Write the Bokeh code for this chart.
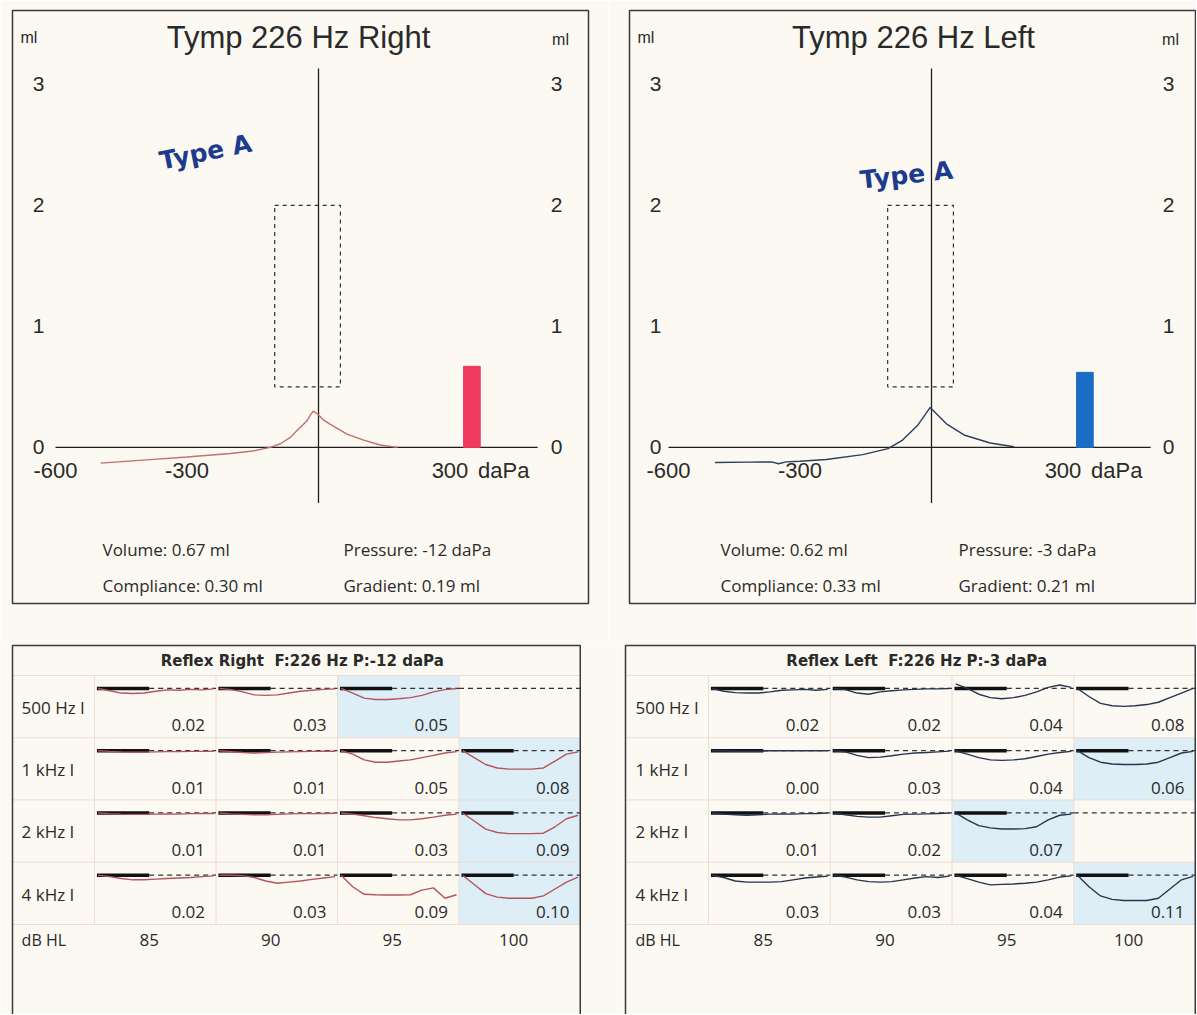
from bokeh.plotting import figure
from bokeh.layouts import column, row
from bokeh.models import Range1d
from bokeh.core.properties import value
from bokeh.embed import file_html
from bokeh.resources import INLINE

BG = "#fbf9f1"
INK = "#2a2a2a"

# ---------------- Tympanogram data ----------------
R_PRESSURE = [-497, -400, -300, -201, -150, -110, -87, -65, -49, -26, -18, -12, 0, 10, 27, 65, 103, 141, 180]
R_COMPLIANCE = [-0.13, -0.105, -0.08, -0.05, -0.03, 0.0, 0.03, 0.08, 0.14, 0.22, 0.27, 0.30, 0.27, 0.23, 0.19, 0.11, 0.06, 0.02, 0.0]
L_PRESSURE = [-494, -420, -365, -349, -332, -300, -240, -157, -99, -66, -32, -3, 34, 76, 134, 188]
L_COMPLIANCE = [-0.125, -0.122, -0.12, -0.135, -0.12, -0.115, -0.10, -0.06, -0.01, 0.06, 0.18, 0.33, 0.195, 0.10, 0.036, 0.005]

R_STATS = {"volume": 0.67, "compliance": 0.30, "pressure": -12, "gradient": 0.19}
L_STATS = {"volume": 0.62, "compliance": 0.33, "pressure": -3, "gradient": 0.21}

Y_TICKS = [0, 1, 2, 3]
X_TICKS = [-600, -300, 300]
X_TICK_LABELS = ["-600", "-300", "300"]
X_UNIT = "daPa"
NORMAL_PRESSURE = (-100, 50)
NORMAL_COMPLIANCE = (0.5, 2.0)
AXIS_PRESSURE = (-600, 500)
AXIS_ML = (-0.46, 3.13)
VOLUME_BAR_PRESSURE = 350

# ---------------- Reflex data ----------------
FREQ_LABELS = ["500 Hz I", "1 kHz I", "2 kHz I", "4 kHz I"]
LEVELS = ["85", "90", "95", "100"]
T = [0.0, 0.1, 0.2, 0.3, 0.4, 0.5, 0.6, 0.7, 0.8, 0.9, 1.0]

R_REFLEX_VALUES = [[0.02, 0.03, 0.05, None],
                   [0.01, 0.01, 0.05, 0.08],
                   [0.01, 0.01, 0.03, 0.09],
                   [0.02, 0.03, 0.09, 0.10]]
R_HIGHLIGHT = [[0, 0, 1, 0], [0, 0, 0, 1], [0, 0, 0, 1], [0, 0, 0, 1]]
R_TRACES = [
    [[0, 0.01, 0.02, 0.022, 0.02, 0.012, 0.006, 0.008, 0.004, 0.006, 0.002],
     [0, 0.005, 0.015, 0.028, 0.03, 0.028, 0.02, 0.012, 0.008, 0.004, 0.002],
     [0, 0.02, 0.042, 0.048, 0.048, 0.045, 0.04, 0.03, 0.015, 0.005, 0.0],
     None],
    [[0, 0.003, 0.005, 0.006, 0.006, 0.005, 0.004, 0.004, 0.003, 0.003, 0.002],
     [0, 0.004, 0.008, 0.01, 0.008, 0.006, 0.005, 0.004, 0.003, 0.002, 0.002],
     [0, 0.015, 0.04, 0.05, 0.05, 0.045, 0.04, 0.03, 0.02, 0.01, 0.004],
     [0, 0.03, 0.06, 0.075, 0.08, 0.08, 0.08, 0.075, 0.045, 0.015, 0.005]],
    [[0, 0.003, 0.005, 0.006, 0.006, 0.005, 0.004, 0.005, 0.003, 0.002, 0.002],
     [0, 0.004, 0.006, 0.008, 0.008, 0.006, 0.004, 0.003, 0.003, 0.002, 0.001],
     [0, 0.005, 0.012, 0.02, 0.025, 0.03, 0.03, 0.025, 0.018, 0.01, 0.005],
     [0, 0.035, 0.07, 0.085, 0.09, 0.09, 0.09, 0.088, 0.06, 0.025, 0.01]],
    [[0, 0.006, 0.014, 0.02, 0.02, 0.017, 0.014, 0.012, 0.01, 0.006, 0.003],
     [0, 0.0, 0.002, 0.01, 0.025, 0.035, 0.03, 0.025, 0.018, 0.012, 0.006],
     [0, 0.05, 0.083, 0.085, 0.086, 0.086, 0.085, 0.065, 0.055, 0.1, 0.085],
     [0, 0.04, 0.08, 0.095, 0.1, 0.1, 0.1, 0.09, 0.06, 0.03, 0.008]],
]

L_REFLEX_VALUES = [[0.02, 0.02, 0.04, 0.08],
                   [0.00, 0.03, 0.04, 0.06],
                   [0.01, 0.02, 0.07, None],
                   [0.03, 0.03, 0.04, 0.11]]
L_HIGHLIGHT = [[0, 0, 0, 0], [0, 0, 0, 1], [0, 0, 1, 0], [0, 0, 0, 1]]
L_TRACES = [
    [[0, 0.012, 0.018, 0.02, 0.02, 0.015, 0.008, 0.006, 0.004, 0.008, 0.004],
     [0, 0.005, 0.02, 0.025, 0.015, 0.01, 0.006, 0.004, 0.002, 0.002, 0.0],
     [-0.02, 0.0, 0.025, 0.04, 0.045, 0.04, 0.03, 0.015, -0.005, -0.015, -0.005],
     [0, 0.035, 0.065, 0.075, 0.078, 0.075, 0.07, 0.06, 0.04, 0.02, 0.0]],
    [[0, 0, 0.002, 0.002, 0.002, 0.0, 0.0, 0.0, 0.0, 0.0, 0.0],
     [0, 0.005, 0.02, 0.03, 0.028, 0.022, 0.015, 0.01, 0.008, 0.005, 0.002],
     [0, 0.015, 0.03, 0.04, 0.042, 0.04, 0.035, 0.025, 0.015, 0.008, 0.003],
     [0, 0.03, 0.05, 0.058, 0.06, 0.06, 0.058, 0.05, 0.03, 0.01, 0.003]],
    [[0, 0.005, 0.008, 0.01, 0.008, 0.005, 0.004, 0.005, 0.003, 0.002, 0.0],
     [0, 0.008, 0.015, 0.018, 0.018, 0.012, 0.006, 0.005, 0.004, 0.002, 0.0],
     [0, 0.03, 0.055, 0.065, 0.07, 0.07, 0.068, 0.06, 0.03, 0.01, 0.005],
     None],
    [[0, 0.01, 0.025, 0.03, 0.03, 0.03, 0.028, 0.02, 0.012, 0.008, 0.004],
     [0, 0.008, 0.02, 0.028, 0.03, 0.028, 0.02, 0.012, 0.006, 0.01, 0.004],
     [0, 0.015, 0.03, 0.042, 0.04, 0.038, 0.035, 0.03, 0.02, 0.008, 0.003],
     [0, 0.05, 0.09, 0.105, 0.11, 0.11, 0.11, 0.1, 0.06, 0.02, 0.005]],
]

SANS = "Open Sans"


def base_fig(width, height, xr, yr, mbl, mbr, mbt, mbb):
    p = figure(width=width, height=height, x_range=Range1d(*xr), y_range=Range1d(*yr),
               output_backend="svg", toolbar_location=None,
               x_axis_location=None, y_axis_location=None,
               min_border_left=mbl, min_border_right=mbr,
               min_border_top=mbt, min_border_bottom=mbb)
    p.grid.visible = False
    p.background_fill_color = BG
    p.border_fill_color = BG
    return p


def txt(p, x, y, s, size, font=SANS, align="left", style="normal", color=INK, angle=0):
    p.text(x=x, y=y, text=s, text_font=value(font), text_font_size=size,
           text_align=align, text_baseline="middle", text_font_style=style,
           text_color=color, angle=angle)


def tymp(title, pres, comp, stats, curve_color, bar_color, width, mbl, mbr, xr, pos):
    p = base_fig(width, 640, xr, (-1.29, 3.61), mbl, mbr, 10, 37)
    p.outline_line_color = "#3a3a3a"
    p.outline_line_width = 1.5
    # normal region
    p.quad(left=[NORMAL_PRESSURE[0]], right=[NORMAL_PRESSURE[1]],
           bottom=[NORMAL_COMPLIANCE[0]], top=[NORMAL_COMPLIANCE[1]],
           fill_color=None, line_color="#333333", line_dash="4 4", line_width=1.2)
    # axes
    p.segment(x0=[AXIS_PRESSURE[0], 0], y0=[0, AXIS_ML[0]],
              x1=[AXIS_PRESSURE[1], 0], y1=[0, AXIS_ML[1]],
              line_color="#1e1e1e", line_width=1.3)
    # curve
    p.line(pres, comp, line_color=curve_color, line_width=1.4)
    # volume bar
    p.vbar(x=[VOLUME_BAR_PRESSURE], top=[stats["volume"]], bottom=0, width=38,
           fill_color=bar_color, line_color=bar_color)
    # texts
    txt(p, [pos["title"]], [3.39], [title], "31px", font="Liberation Sans", align="center")
    txt(p, [pos["ml_l"]], [3.39], ["ml"], "16px", font="Liberation Sans")
    txt(p, [pos["ml_r"]], [3.37], ["ml"], "16px", font="Liberation Sans", align="center")
    txt(p, [pos["yl"]] * len(Y_TICKS), Y_TICKS, [str(v) for v in Y_TICKS], "21px",
        font="Liberation Sans", align="center")
    txt(p, [pos["yr"]] * len(Y_TICKS), Y_TICKS, [str(v) for v in Y_TICKS], "21px",
        font="Liberation Sans", align="center")
    txt(p, X_TICKS, [-0.19] * len(X_TICKS), X_TICK_LABELS, "22px",
        font="Liberation Sans", align="center")
    p.text(x=[X_TICKS[-1]], y=[-0.19], text=[X_UNIT], x_offset=28,
           text_font=value("Liberation Sans"), text_font_size="22px",
           text_baseline="middle", text_color=INK)
    txt(p, [pos["s1"], pos["s1"]], [-0.843, -1.14],
        [f"Volume: {stats['volume']:.2f} ml", f"Compliance: {stats['compliance']:.2f} ml"], "17px")
    txt(p, [pos["s2"], pos["s2"]], [-0.843, -1.14],
        [f"Pressure: {stats['pressure']} daPa", f"Gradient: {stats['gradient']:.2f} ml"], "17px")
    txt(p, [pos["tx"]], [pos["ty"]], ["Type A"], "25px", font="DejaVu Sans",
        align="center", style="bold", color="#1d3a8e", angle=pos["ta"])
    return p


K = 0.4383  # px per daPa
pA = tymp("Tymp 226 Hz Right", R_PRESSURE, R_COMPLIANCE, R_STATS, "#c0706f", "#ee3a5c",
          608, 12, 20, (-306 / K, 270 / K),
          {"title": -20 / K, "ml_l": -298 / K, "ml_r": 242 / K, "yl": -280 / K, "yr": 238 / K,
           "s1": -216 / K, "s2": 25 / K, "tx": -113 / K, "ty": 2.44, "ta": 0.2})
pB = tymp("Tymp 226 Hz Left", L_PRESSURE, L_COMPLIANCE, L_STATS, "#2c3e5a", "#1b6cc4",
          588, 21, 1, (-302 / K, 264 / K),
          {"title": -18 / K, "ml_l": -294 / K, "ml_r": 239 / K, "yl": -276 / K, "yr": 237 / K,
           "s1": -211 / K, "s2": 27 / K, "tx": -25 / K, "ty": 2.25, "ta": 0.11})

RH = 62.25 / 230.0   # row height in ml units
BASE_OFF = 13 / 230.0


def reflex(title, values, traces, highlight, color, width, xr, box_left):
    p = base_fig(width, 374, xr, (-1.474, 0.152), 0, 0, 0, 0)
    p.outline_line_color = None
    # highlights
    hl, hr, hb, ht = [], [], [], []
    for r in range(4):
        for c in range(4):
            if highlight[r][c]:
                hl.append(c); hr.append(c + 1); ht.append(-r * RH); hb.append(-(r + 1) * RH)
    p.quad(left=hl, right=hr, top=ht, bottom=hb, fill_color="#ddeef7", line_color=None)
    # grid
    gx = [[box_left, 4.0] for _ in range(5)] + [[c, c] for c in range(4)]
    gy = [[-r * RH, -r * RH] for r in range(5)] + [[0, -4 * RH] for _ in range(4)]
    p.multi_line(gx, gy, line_color="#ecdcd6", line_width=1)
    # box
    p.line([box_left, box_left, 3.998, 3.998], [-3, 0.1304, 0.1304, -3],
           line_color="#3a3a3a", line_width=1.5)
    # traces
    bx, by, dx, dy, cx, cy = [], [], [], [], [], []
    vx, vy, vt = [], [], []
    for r in range(4):
        top = -r * RH
        base = top - BASE_OFF
        for c in range(4):
            tr = traces[r][c]
            if tr is None:
                dx.append([c, c + 1]); dy.append([base, base])
            else:
                bx.append([c + 0.02, c + 0.45]); by.append([base, base])
                dx.append([c + 0.45, c + 1]); dy.append([base, base])
                cx.append([c + 0.03 + t * 0.95 for t in T])
                cy.append([base - d for d in tr])
            if values[r][c] is not None:
                vx.append(c + 0.91); vy.append(top - 50 / 230.0); vt.append(f"{values[r][c]:.2f}")
    p.multi_line(dx, dy, line_color="#333333", line_dash="5 4", line_width=1.2)
    p.multi_line(bx, by, line_color="#111111", line_width=3.5)
    p.multi_line(cx, cy, line_color=color, line_width=1.4)
    txt(p, vx, vy, vt, "17px", align="right")
    txt(p, [-0.6] * 4, [-r * RH - 32 / 230.0 for r in range(4)], FREQ_LABELS, "17px")
    txt(p, [-0.6], [-1.152], ["dB HL"], "16px")
    txt(p, [c + 0.45 for c in range(4)], [-1.152] * 4, LEVELS, "17px", align="center")
    txt(p, [1.71], [0.065], [title.replace("  ", " \u00a0")], "15px", font="DejaVu Sans",
        align="center", style="bold")
    return p


pC = reflex("Reflex Right  F:226 Hz P:-12 daPa", R_REFLEX_VALUES, R_TRACES, R_HIGHLIGHT,
            "#b4545c", 616, (-94 / 121.5, 522 / 121.5), -82 / 121.5)
pD = reflex("Reflex Left  F:226 Hz P:-3 daPa", L_REFLEX_VALUES, L_TRACES, L_HIGHLIGHT,
            "#26364f", 580, (-92 / 121.75, 488 / 121.75), -83 / 121.75)

layout = column(row(pA, pB), row(pC, pD))
open("out.html", "w").write(file_html(layout, INLINE))
